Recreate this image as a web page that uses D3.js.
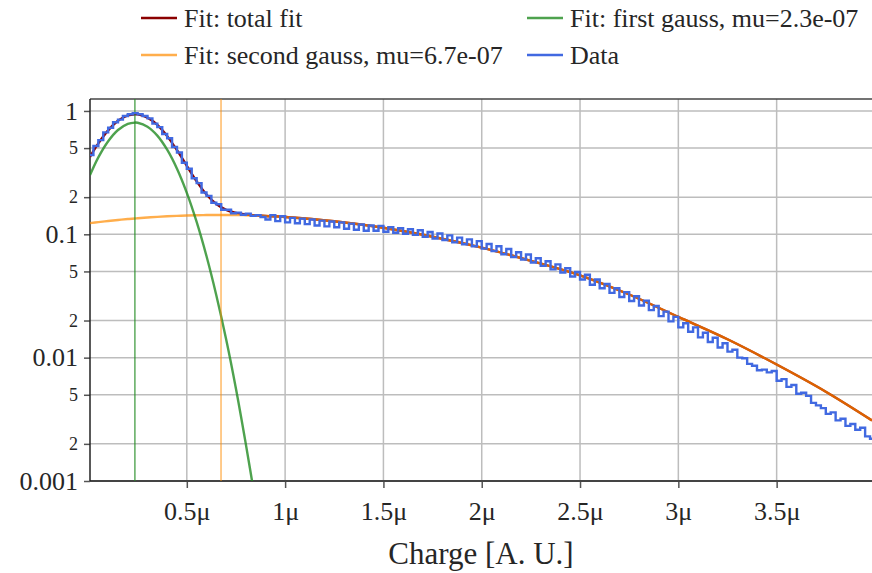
<!DOCTYPE html>
<html>
<head>
<meta charset="utf-8">
<script src="https://cdn.jsdelivr.net/npm/d3@7"></script>
<style>
  body { margin: 0; background: #fff; }
  text { font-family: "Liberation Serif", "DejaVu Serif", serif; fill: #262626; }
</style>
</head>
<body>
<svg width="872" height="573"></svg>
<script>
// histogram: bin width 0.025 µ, first bin starts at 0
var binWidth = 0.025e-6;
var dataValues = [
  0.44, 0.52, 0.58, 0.67, 0.73, 0.81, 0.85, 0.91, 0.94, 0.96,
  0.94, 0.91, 0.87, 0.79, 0.74, 0.65, 0.60, 0.51, 0.46, 0.38,
  0.34, 0.285, 0.26, 0.218, 0.205, 0.18, 0.175, 0.158, 0.158, 0.148,
  0.150, 0.144, 0.147, 0.141, 0.143, 0.138, 0.132, 0.143, 0.128, 0.140,
  0.125, 0.136, 0.123, 0.134, 0.121, 0.132, 0.118, 0.129, 0.116, 0.127,
  0.114, 0.125, 0.111, 0.122, 0.109, 0.120, 0.107, 0.118, 0.107, 0.117,
  0.105, 0.114, 0.103, 0.112, 0.101, 0.110, 0.099, 0.108, 0.0955, 0.1045,
  0.0925, 0.1015, 0.090, 0.098, 0.086, 0.094, 0.083, 0.091, 0.080, 0.088,
  0.0765, 0.0835, 0.073, 0.080, 0.069, 0.076, 0.0655, 0.0715, 0.0625, 0.0685,
  0.059, 0.064, 0.0555, 0.0605, 0.052, 0.057, 0.049, 0.053, 0.0455, 0.0495,
  0.043, 0.047, 0.039, 0.043, 0.0365, 0.0395, 0.0335, 0.0365, 0.031, 0.034,
  0.0288, 0.0315, 0.0265, 0.029, 0.0243, 0.0262, 0.0217, 0.0236, 0.0197, 0.0214,
  0.0176, 0.019, 0.0162, 0.0176, 0.0146, 0.0159, 0.0134, 0.0145, 0.0121, 0.0131,
  0.0112, 0.0116, 0.0100, 0.0099, 0.0089, 0.0086, 0.0079, 0.0080, 0.0076, 0.0078,
  0.0065, 0.0067, 0.0058, 0.0060, 0.0051, 0.0052, 0.0049, 0.0043, 0.0041, 0.0039,
  0.0035, 0.0036, 0.0031, 0.0032, 0.0028, 0.0029, 0.0026, 0.0027, 0.0023, 0.0022
];

// fit curves, sampled (x in µ)
var fitX = [0.0076, 0.05, 0.1, 0.15, 0.2, 0.236, 0.25, 0.3, 0.35, 0.4, 0.45, 0.5, 0.55, 0.6,
            0.65, 0.7, 0.75, 0.8, 0.85, 0.9, 1.0, 1.25, 1.5, 1.75, 2.0, 2.25, 2.5, 2.75,
            3.0, 3.25, 3.5, 3.75, 3.985];
var fitTotal = [0.425, 0.546, 0.696, 0.832, 0.919, 0.939, 0.937, 0.882, 0.770, 0.625, 0.481,
                0.359, 0.269, 0.210, 0.176, 0.158, 0.149, 0.1447, 0.1426, 0.1409, 0.1382,
                0.1276, 0.1129, 0.0956, 0.078, 0.061, 0.0465, 0.0325, 0.0214, 0.0141,
                0.0088, 0.0053, 0.0031];
var fitFirst = [0.302, 0.420, 0.568, 0.701, 0.786, 0.805, 0.802, 0.745, 0.631, 0.485, 0.340,
                0.217, 0.126, 0.0667, 0.0321, 0.0141, 0.0056, 0.0020, 0.00067, null, null,
                null, null, null, null, null, null, null, null, null, null, null, null];
var fitSecond = [0.1232, 0.1255, 0.1282, 0.1306, 0.1329, 0.1344, 0.1349, 0.1368, 0.1385,
                 0.1399, 0.1411, 0.1421, 0.1428, 0.1433, 0.1435, 0.1435, 0.1434, 0.1427,
                 0.1419, 0.1409, 0.1382, 0.1276, 0.1129, 0.0956, 0.078, 0.061, 0.0465,
                 0.0325, 0.0214, 0.0141, 0.0088, 0.0053, 0.0031];
var gaussMu = [2.36e-7, 6.74e-7];

var xTicks = [0.5e-6, 1e-6, 1.5e-6, 2e-6, 2.5e-6, 3e-6, 3.5e-6];
var yTicks = [0.001, 0.002, 0.005, 0.01, 0.02, 0.05, 0.1, 0.2, 0.5, 1];
var yMajor = [0.001, 0.01, 0.1, 1];

var legendLabels = ['Fit: total fit', 'Fit: first gauss, mu=2.3e-07',
                    'Fit: second gauss, mu=6.7e-07', 'Data'];
var legendColors = ['#8b0000', '#228b22', '#ff8c00', '#4169e1'];

var svg = d3.select('svg'),
    pLeft = 90, pRight = 872, pTop = 99, pBottom = 481,
    x = d3.scaleLinear().domain([0.0076e-6, 3.985e-6]).range([pLeft, pRight]),
    y = d3.scaleLog().domain([0.001, 1.25]).range([pBottom, pTop]);

svg.append('defs').append('clipPath').attr('id', 'plot')
  .append('rect')
    .attr('x', pLeft).attr('y', pTop)
    .attr('width', pRight - pLeft).attr('height', pBottom - pTop);

// grid
var grid = svg.append('g').attr('stroke', '#bdbdbd').attr('stroke-width', 1.5);
grid.selectAll('.gy').data(yTicks).enter().append('line')
  .attr('x1', pLeft).attr('x2', pRight)
  .attr('y1', function(d) { return y(d); })
  .attr('y2', function(d) { return y(d); });
grid.selectAll('.gx').data(xTicks).enter().append('line')
  .attr('y1', pTop).attr('y2', pBottom)
  .attr('x1', function(d) { return x(d); })
  .attr('x2', function(d) { return x(d); });

// axes
var yAxis = svg.append('g')
  .attr('transform', 'translate(' + pLeft + ',0)')
  .call(d3.axisLeft(y).tickValues(yTicks).tickSize(6).tickPadding(6)
    .tickFormat(function(d) {
      return yMajor.indexOf(d) >= 0 ? String(d) : String(Math.round(d / Math.pow(10, Math.floor(Math.log10(d) + 1e-9))));
    }));
yAxis.selectAll('text')
  .style('font-size', function(d) { return yMajor.indexOf(d) >= 0 ? '26px' : '18px'; })
  .attr('fill', '#262626');

var xAxis = svg.append('g')
  .attr('transform', 'translate(0,' + pBottom + ')')
  .call(d3.axisBottom(x).tickValues(xTicks).tickSize(7).tickPadding(14)
    .tickFormat(function(d) { return (+(d * 1e6).toFixed(1)) + 'μ'; }));
xAxis.selectAll('text').style('font-size', '26px').attr('fill', '#262626');

[yAxis, xAxis].forEach(function(a) {
  a.select('.domain').remove();
  a.selectAll('line').attr('stroke', '#555').attr('stroke-width', 1.5);
});

// frame
svg.append('line').attr('x1', pLeft).attr('x2', pRight).attr('y1', pTop).attr('y2', pTop)
  .attr('stroke', '#444').attr('stroke-width', 1.5);
svg.append('line').attr('x1', pLeft).attr('x2', pRight).attr('y1', pBottom).attr('y2', pBottom)
  .attr('stroke', '#444').attr('stroke-width', 2);
svg.append('line').attr('x1', pLeft).attr('x2', pLeft).attr('y1', pTop).attr('y2', pBottom)
  .attr('stroke', '#222').attr('stroke-width', 1.5);

var plot = svg.append('g').attr('clip-path', 'url(#plot)');

var fitLine = function(vals) {
  return d3.line()
    .defined(function(d, i) { return vals[i] != null; })
    .x(function(d) { return x(d * 1e-6); })
    .y(function(d, i) { return y(vals[i]); })
    .curve(d3.curveCatmullRom)(fitX);
};

plot.append('path').attr('d', fitLine(fitTotal))
  .attr('fill', 'none').attr('stroke', legendColors[0]).attr('stroke-width', 2.4);
plot.append('path').attr('d', fitLine(fitSecond))
  .attr('fill', 'none').attr('stroke', legendColors[2]).attr('stroke-opacity', 0.7).attr('stroke-width', 2.4);
plot.append('path').attr('d', fitLine(fitFirst))
  .attr('fill', 'none').attr('stroke', legendColors[1]).attr('stroke-opacity', 0.8).attr('stroke-width', 2.4);

// mu markers
plot.selectAll('.mu').data(gaussMu).enter().append('line')
  .attr('x1', function(d) { return x(d); })
  .attr('x2', function(d) { return x(d); })
  .attr('y1', pTop).attr('y2', pBottom)
  .attr('stroke', function(d, i) { return i == 0 ? legendColors[1] : legendColors[2]; })
  .attr('stroke-opacity', function(d, i) { return i == 0 ? 0.85 : 0.7; })
  .attr('stroke-width', 1.3);

// data histogram as steps
var steps = dataValues.map(function(v, i) { return [i * binWidth, v]; });
steps.push([dataValues.length * binWidth, dataValues[dataValues.length - 1]]);
plot.append('path')
  .attr('d', d3.line()
    .x(function(d) { return x(d[0]); })
    .y(function(d) { return y(d[1]); })
    .curve(d3.curveStepAfter)(steps))
  .attr('fill', 'none').attr('stroke', legendColors[3]).attr('stroke-width', 2.4);

// x label
svg.append('text')
  .attr('x', (pLeft + pRight) / 2).attr('y', 564)
  .attr('text-anchor', 'middle')
  .style('font-size', '31px')
  .text('Charge [A. U.]');

// legend, two columns
var legendPos = [[141, 18], [527, 18], [141, 55], [527, 55]];
var legend = svg.selectAll('.legend').data(legendLabels).enter().append('g')
  .attr('transform', function(d, i) { return 'translate(' + legendPos[i][0] + ',' + legendPos[i][1] + ')'; });
legend.append('line')
  .attr('x1', 0).attr('x2', 36)
  .attr('stroke', function(d, i) { return legendColors[i]; })
  .attr('stroke-opacity', function(d, i) { return i == 2 ? 0.7 : (i == 1 ? 0.8 : 1); })
  .attr('stroke-width', 2.5);
legend.append('text')
  .attr('x', 43).attr('y', 9)
  .style('font-size', '26px')
  .text(function(d) { return d; });
</script>
</body>
</html>
